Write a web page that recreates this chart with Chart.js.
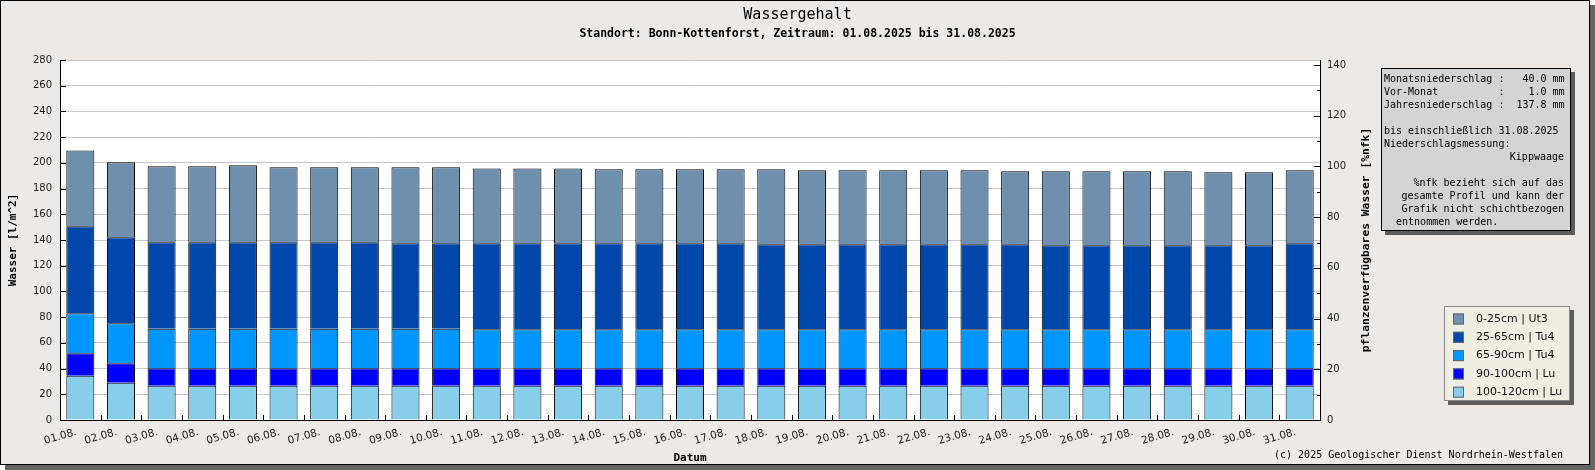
<!DOCTYPE html>
<html>
<head>
<meta charset="utf-8">
<title>Wassergehalt</title>
<script src="https://cdn.jsdelivr.net/npm/chart.js@4.4.1/dist/chart.umd.min.js"></script>
<style>
  html, body { margin: 0; padding: 0; background: #fff; }
  canvas { display: block; }
</style>
</head>
<body>
<canvas id="graficoWasser" width="1595" height="470"></canvas>
<script>
// DATEN (l/m^2 je Schicht, von unten nach oben gestapelt)
const tage = ['01.08.', '02.08.', '03.08.', '04.08.', '05.08.', '06.08.', '07.08.', '08.08.',
    '09.08.', '10.08.', '11.08.', '12.08.', '13.08.', '14.08.', '15.08.', '16.08.', '17.08.',
    '18.08.', '19.08.', '20.08.', '21.08.', '22.08.', '23.08.', '24.08.', '25.08.', '26.08.',
    '27.08.', '28.08.', '29.08.', '30.08.', '31.08.'];

const schicht100_120 = [34.5, 29.0, 26.7, 26.7, 26.7, 26.7, 26.7, 26.7, 26.7, 26.7, 26.7, 26.7,
    26.7, 26.7, 26.7, 26.7, 26.7, 26.7, 26.7, 26.7, 26.7, 26.7, 26.7, 26.7, 26.7, 26.7, 26.7,
    26.7, 26.7, 26.7, 26.7];
const schicht90_100 = [17.4, 15.1, 13.5, 13.5, 13.5, 13.5, 13.5, 13.5, 13.5, 13.5, 13.5, 13.5,
    13.5, 13.5, 13.5, 13.5, 13.5, 13.5, 13.5, 13.5, 13.5, 13.5, 13.5, 13.5, 13.5, 13.5, 13.5,
    13.5, 13.5, 13.5, 13.5];
const schicht65_90 = [31.1, 31.1, 30.8, 30.8, 30.8, 30.8, 30.8, 30.8, 30.8, 30.8, 30.3, 30.3,
    30.3, 30.3, 30.3, 30.3, 30.3, 30.3, 30.3, 30.3, 30.3, 30.3, 30.3, 30.3, 30.3, 30.3, 30.3,
    30.3, 30.3, 30.3, 30.3];
const schicht25_65 = [67.6, 66.9, 67.2, 67.2, 67.2, 67.2, 67.2, 67.2, 66.4, 66.4, 66.9, 66.9,
    66.9, 66.9, 66.9, 66.9, 66.9, 66.1, 66.1, 66.1, 66.1, 66.1, 66.1, 66.1, 65.4, 65.4, 65.4,
    65.4, 65.4, 65.4, 66.9];
const schicht0_25 = [59.0, 58.3, 59.1, 59.1, 59.9, 58.3, 58.3, 58.3, 59.1, 59.1, 58.3, 58.3,
    58.3, 57.6, 57.6, 57.6, 57.6, 58.4, 57.6, 57.6, 57.6, 57.6, 57.6, 56.8, 57.5, 57.5, 57.5,
    57.5, 56.7, 56.7, 56.8];

const infoZeilen = [
    ['Monatsniederschlag :   40.0 mm', 'l'],
    ['Vor-Monat          :    1.0 mm', 'l'],
    ['Jahresniederschlag :  137.8 mm', 'l'],
    ['', 'l'],
    ['bis einschließlich 31.08.2025', 'l'],
    ['Niederschlagsmessung:', 'l'],
    ['Kippwaage', 'r'],
    ['', 'l'],
    ['%nfk bezieht sich auf das', 'r'],
    ['gesamte Profil und kann der', 'r'],
    ['Grafik nicht schichtbezogen', 'r'],
    ['  entnommen werden.', 'l']
];

const MONO = "'DejaVu Sans Mono', monospace";

// RAHMEN, TICKS, INFOBOX, LEGENDE
const rahmen = {
    id: 'rahmen',
    beforeDraw(chart) {
        const c = chart.ctx;
        const a = chart.chartArea;
        c.save();
        c.fillStyle = '#646464';
        c.fillRect(5, 5, 1590, 465);
        c.fillStyle = '#ECE9E7';
        c.fillRect(0, 0, 1590, 465);
        c.strokeStyle = '#000';
        c.lineWidth = 1;
        c.strokeRect(0.5, 0.5, 1589, 464);
        c.fillStyle = '#fff';
        c.fillRect(a.left, a.top, a.right - a.left, a.bottom - a.top);
        c.restore();
    },
    afterDraw(chart) {
        const c = chart.ctx;
        const a = chart.chartArea;
        const yl = chart.scales.y;
        const yr = chart.scales.y2;
        c.save();

        // ticks nach innen
        c.strokeStyle = '#000';
        c.lineWidth = 1;
        c.beginPath();
        yl.ticks.forEach(function (t) {
            const py = Math.round(yl.getPixelForValue(t.value)) + 0.5;
            const len = t.value % 20 === 0 ? 6 : 3;
            c.moveTo(a.left, py);
            c.lineTo(a.left + len, py);
        });
        yr.ticks.forEach(function (t) {
            const py = Math.round(yr.getPixelForValue(t.value)) + 0.5;
            const len = t.value % 20 === 0 ? 6 : 3;
            c.moveTo(a.right, py);
            c.lineTo(a.right - len, py);
        });
        const n = tage.length;
        for (let i = 1; i < n; i++) {
            const px = Math.round(a.left + i * (a.right - a.left) / n) + 0.5;
            c.moveTo(px, a.bottom);
            c.lineTo(px, a.bottom - 5);
        }
        c.stroke();

        // rechte Achsenbeschriftung
        c.save();
        c.translate(1366, (a.top + a.bottom) / 2);
        c.rotate(-Math.PI / 2);
        c.font = 'bold 11.3px ' + MONO;
        c.fillStyle = '#000';
        c.textAlign = 'center';
        c.textBaseline = 'middle';
        c.fillText('pflanzenverfügbares Wasser [%nfk]', 0, 0);
        c.restore();

        // Infobox
        c.fillStyle = '#5c5c5c';
        c.fillRect(1385, 72, 190, 163);
        c.fillStyle = '#D4D4D4';
        c.fillRect(1381, 68, 190, 163);
        c.strokeStyle = '#000';
        c.strokeRect(1381.5, 68.5, 189, 162);
        c.font = '10px ' + MONO;
        c.fillStyle = '#000';
        c.textBaseline = 'middle';
        infoZeilen.forEach(function (z, i) {
            const py = 79.5 + i * 13;
            if (z[1] === 'r') {
                c.textAlign = 'right';
                c.fillText(z[0], 1564, py);
            } else {
                c.textAlign = 'left';
                c.fillText(z[0], 1384, py);
            }
        });

        // Legende
        c.fillStyle = '#5c5c5c';
        c.fillRect(1448, 310, 126, 95);
        c.fillStyle = '#EEEEE3';
        c.fillRect(1444, 306, 126, 95);
        c.strokeStyle = '#888';
        c.strokeRect(1444.5, 306.5, 125, 94);
        c.font = '11px DejaVu Sans';
        c.textAlign = 'left';
        const ds = chart.data.datasets.slice().reverse();
        ds.forEach(function (d, i) {
            const py = 319 + i * 18.3;
            c.fillStyle = d.backgroundColor;
            c.fillRect(1453, py - 5.5, 11, 11);
            c.strokeStyle = '#666';
            c.strokeRect(1453.5, py - 5, 10, 10);
            c.fillStyle = '#111';
            c.fillText(d.label, 1476, py);
        });

        // Copyright
        c.font = '10px ' + MONO;
        c.fillStyle = '#000';
        c.textAlign = 'right';
        c.fillText('(c) 2025 Geologischer Dienst Nordrhein-Westfalen', 1563, 455);
        c.restore();
    }
};

document.addEventListener("DOMContentLoaded", function () {

    const ctx = document.getElementById('graficoWasser');

    new Chart(ctx, {
        type: 'bar',
        data: {
            labels: tage,
            datasets: [
                { label: '100-120cm | Lu', data: schicht100_120, backgroundColor: '#87CEEB' },
                { label: '90-100cm | Lu', data: schicht90_100, backgroundColor: '#0000FF' },
                { label: '65-90cm | Tu4', data: schicht65_90, backgroundColor: '#0096FF' },
                { label: '25-65cm | Tu4', data: schicht25_65, backgroundColor: '#0047AB' },
                { label: '0-25cm | Ut3', data: schicht0_25, backgroundColor: '#6F8FAF' }
            ]
        },
        options: {
            responsive: false,
            animation: false,
            devicePixelRatio: 1,
            datasets: {
                bar: {
                    borderColor: '#000',
                    borderWidth: 1,
                    categoryPercentage: 1,
                    barPercentage: 0.69
                }
            },
            layout: {
                padding: { left: 0, right: 0, top: 0, bottom: 0 }
            },
            plugins: {
                legend: { display: false },
                tooltip: { enabled: false },
                title: {
                    display: true,
                    text: 'Wassergehalt',
                    color: '#000',
                    font: { family: MONO, size: 15, weight: 'normal' },
                    padding: { top: 6, bottom: 2 }
                },
                subtitle: {
                    display: true,
                    text: 'Standort: Bonn-Kottenforst, Zeitraum: 01.08.2025 bis 31.08.2025',
                    color: '#000',
                    font: { family: MONO, size: 11.5, weight: 'bold' },
                    padding: { top: 1.1, bottom: 19.1 }
                }
            },
            scales: {
                x: {
                    stacked: true,
                    afterFit: function (scale) { scale.height = 50; },
                    grid: { display: false, drawTicks: false },
                    border: { color: '#000', width: 1 },
                    ticks: {
                        autoSkip: false,
                        minRotation: 16,
                        maxRotation: 16,
                        padding: 6,
                        labelOffset: -4,
                        color: '#222',
                        font: { family: 'DejaVu Sans', size: 10.5 }
                    },
                    title: {
                        display: true,
                        text: 'Datum',
                        color: '#000',
                        font: { family: MONO, size: 11, weight: 'bold' },
                        padding: { top: 0, bottom: 5 }
                    }
                },
                y: {
                    stacked: true,
                    position: 'left',
                    min: 0,
                    max: 280,
                    afterFit: function (scale) { scale.width = 60; },
                    border: { color: '#000', width: 1 },
                    grid: {
                        drawTicks: false,
                        color: function (c) {
                            return c.tick && c.tick.value % 20 === 0 ? '#c8c8c8' : 'rgba(0,0,0,0)';
                        }
                    },
                    ticks: {
                        stepSize: 10,
                        padding: 8,
                        color: '#222',
                        font: { family: 'DejaVu Sans', size: 10 },
                        callback: function (v) { return v % 20 === 0 ? v : ''; }
                    },
                    title: {
                        display: true,
                        text: 'Wasser [l/m^2]',
                        color: '#000',
                        font: { family: MONO, size: 11, weight: 'bold' },
                        padding: { top: 7, bottom: 0 }
                    }
                },
                y2: {
                    position: 'right',
                    min: 0,
                    max: 142,
                    afterFit: function (scale) { scale.width = 275; },
                    border: { color: '#000', width: 1 },
                    grid: { drawOnChartArea: false, drawTicks: false },
                    ticks: {
                        stepSize: 10,
                        includeBounds: false,
                        padding: 7,
                        color: '#222',
                        font: { family: 'DejaVu Sans', size: 10 },
                        callback: function (v) { return v % 20 === 0 ? v : ''; }
                    }
                }
            }
        },
        plugins: [rahmen]
    });

});
</script>
</body>
</html>
